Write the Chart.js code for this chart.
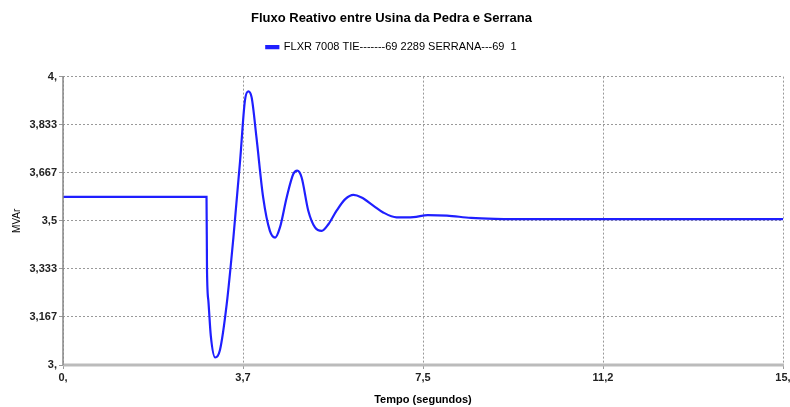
<!DOCTYPE html>
<html>
<head>
<meta charset="utf-8">
<script src="https://cdn.jsdelivr.net/npm/chart.js@4/dist/chart.umd.min.js"></script>
<style>
  html, body { margin: 0; padding: 0; background: #fff; }
  #wrap { width: 790px; height: 407px; }
</style>
</head>
<body>
<div id="wrap"><canvas id="c"></canvas></div>
<script>
// tempo (s) e fluxo (MVAr)
const tempo = [0, 1.5, 2.99, 3.0, 3.03, 3.08, 3.17, 3.27, 3.41, 3.55, 3.69, 3.79, 3.86, 3.93, 4.03, 4.17, 4.31, 4.42,
  4.52, 4.66, 4.8, 4.88, 4.97, 5.11, 5.25, 5.39, 5.53, 5.7, 5.88, 6.05, 6.22, 6.47, 6.67, 6.95, 7.3, 7.6,
  8.0, 8.5, 9.0, 10.0, 12.0, 15.0];
const fluxo = [3.583, 3.583, 3.583, 3.33, 3.22, 3.1, 3.026, 3.052, 3.21, 3.442, 3.709, 3.917, 3.949, 3.928, 3.79, 3.581, 3.465, 3.442,
  3.477, 3.581, 3.663, 3.674, 3.651, 3.535, 3.477, 3.465, 3.488, 3.535, 3.575, 3.590, 3.581, 3.552, 3.529, 3.512, 3.513, 3.52,
  3.518, 3.51, 3.507, 3.506, 3.506, 3.506];

const xTicks = [0, 3.75, 7.5, 11.25, 15];
const xLabels = ['0,', '3,7', '7,5', '11,2', '15,'];
const yTicks = [3, 3.1667, 3.3333, 3.5, 3.6667, 3.8333, 4];
const yLabels = ['3,', '3,167', '3,333', '3,5', '3,667', '3,833', '4,'];

const serie = 'FLXR 7008 TIE-------69 2289 SERRANA---69  1';
const FONT = 'Liberation Sans, Arial, sans-serif';

const pontos = tempo.map((t, i) => ({ x: t, y: fluxo[i] }));

// ajusta a altura da legenda para a area do grafico comecar no lugar certo
const legendaAltura = {
  id: 'legendaAltura',
  beforeInit(chart) {
    const fit = chart.legend.fit;
    chart.legend.fit = function () {
      fit.bind(chart.legend)();
      this.height += 14;
    };
  }
};

// eixos solidos (a grade fica pontilhada)
const eixos = {
  id: 'eixos',
  afterDatasetsDraw(chart) {
    const { ctx, chartArea: a } = chart;
    ctx.save();
    ctx.setLineDash([]);
    ctx.strokeStyle = '#bbb';
    ctx.lineWidth = 3;
    ctx.beginPath();
    ctx.moveTo(a.left, a.bottom);
    ctx.lineTo(a.right + 1, a.bottom);
    ctx.stroke();
    ctx.strokeStyle = '#888';
    ctx.lineWidth = 1.5;
    ctx.beginPath();
    ctx.moveTo(a.left, a.top);
    ctx.lineTo(a.left, a.bottom);
    ctx.stroke();
    ctx.restore();
  }
};

new Chart(document.getElementById('c'), {
  type: 'line',
  data: {
    datasets: [{
      label: serie,
      data: pontos,
      borderColor: '#1f1fff',
      backgroundColor: '#1f1fff',
      borderWidth: 2.2,
      pointRadius: 0,
      cubicInterpolationMode: 'monotone',
      fill: false
    }]
  },
  options: {
    responsive: true,
    maintainAspectRatio: false,
    animation: false,
    layout: { padding: { left: 0, right: 7, top: 0, bottom: 0 } },
    plugins: {
      title: {
        display: true,
        text: 'Fluxo Reativo entre Usina da Pedra e Serrana',
        color: '#000',
        font: { family: FONT, size: 13, weight: 'bold' },
        padding: { top: 11, bottom: 5 }
      },
      legend: {
        display: true,
        labels: {
          color: '#000',
          font: { family: FONT, size: 11 },
          boxWidth: 12,
          boxHeight: 2,
          padding: 10
        }
      },
      tooltip: { enabled: false }
    },
    scales: {
      x: {
        type: 'linear',
        min: 0,
        max: 15,
        afterBuildTicks: (s) => { s.ticks = xTicks.map(v => ({ value: v })); },
        afterFit: (s) => { s.height = 42; s.paddingRight = 0; s.paddingLeft = 0; },
        ticks: {
          color: '#222',
          font: { family: FONT, size: 11, weight: 'bold' },
          padding: 2,
          maxRotation: 0,
          autoSkip: false,
          callback: (v) => xLabels[xTicks.indexOf(v)]
        },
        grid: { color: '#999', tickLength: 4 },
        border: { display: false, dash: [2, 2] },
        title: {
          display: true,
          text: 'Tempo (segundos)',
          color: '#000',
          font: { family: FONT, size: 11, weight: 'bold' },
          padding: { top: 4, bottom: 0 }
        }
      },
      y: {
        type: 'linear',
        min: 3,
        max: 4,
        afterBuildTicks: (s) => { s.ticks = yTicks.map(v => ({ value: v })); },
        afterFit: (s) => { s.width = 63; },
        ticks: {
          color: '#222',
          font: { family: FONT, size: 11, weight: 'bold' },
          padding: 2,
          autoSkip: false,
          callback: (v) => yLabels[yTicks.indexOf(v)]
        },
        grid: { color: '#999', tickLength: 4 },
        border: { display: false, dash: [2, 2] },
        title: {
          display: true,
          text: 'MVAr',
          color: '#000',
          font: { family: FONT, size: 10 },
          padding: { top: 11, bottom: 0 }
        }
      }
    }
  },
  plugins: [legendaAltura, eixos]
});
</script>
</body>
</html>
